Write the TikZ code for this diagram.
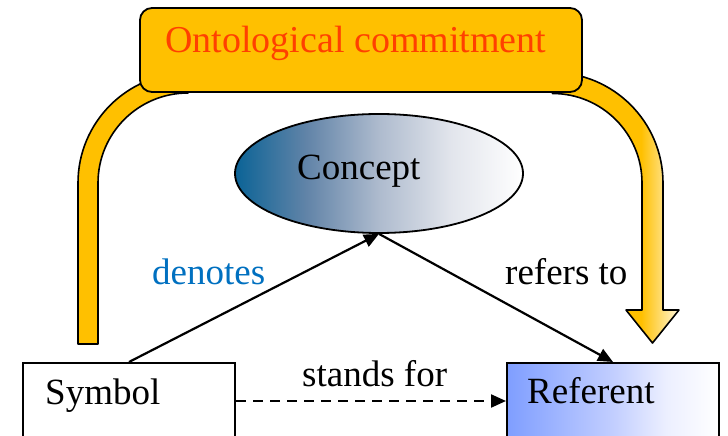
\documentclass[tikz,border=0pt]{standalone}
\usepackage{fontspec}
\setmainfont{Liberation Serif}
\usetikzlibrary{arrows.meta,shapes.geometric}
\definecolor{amber}{HTML}{FFC000}
\definecolor{amberlight}{HTML}{FFF6D8}
\definecolor{commitred}{HTML}{FF4000}
\definecolor{denoteblue}{HTML}{0070C0}
\definecolor{conceptblue}{HTML}{0B6396}
\definecolor{conceptmid}{HTML}{6284A8}
\definecolor{conceptgrey}{HTML}{AEBBCE}
\definecolor{conceptpale}{HTML}{E2E5EC}
\definecolor{refblue}{HTML}{7F9EFF}
\definecolor{refmid}{HTML}{C2CEFF}
\definecolor{refpale}{HTML}{ECEFFF}
% amber band that fades to pale yellow towards its right edge
\pgfdeclarehorizontalshading{bandfade}{100bp}{color(0bp)=(amber); color(60bp)=(amber); color(75bp)=(amberlight); color(100bp)=(amberlight)}
% deep blue through greyish blue to white
\pgfdeclarehorizontalshading{conceptfade}{100bp}{color(0bp)=(conceptblue); color(25bp)=(conceptblue); color(37.5bp)=(conceptmid); color(50bp)=(conceptgrey); color(62.5bp)=(conceptpale); color(75bp)=(white); color(100bp)=(white)}
% periwinkle to white
\pgfdeclarehorizontalshading{referentfade}{100bp}{color(0bp)=(refblue); color(25bp)=(refblue); color(50bp)=(refmid); color(62.5bp)=(refpale); color(75bp)=(white); color(100bp)=(white)}

\tikzset{
  lbl/.style={font=\fontsize{37}{44}\selectfont, inner sep=0pt, anchor=base west},
  band/.style={draw=black, line width=1.6pt, line join=round},
  box/.style={draw=black, line width=2pt, rectangle, minimum width=212pt, minimum height=76pt, inner sep=0pt},
  link/.style={draw=black, line width=2.2pt, -{Triangle[length=15pt,width=13pt]}},
}

\begin{document}
\begin{tikzpicture}[x=1pt,y=1pt]
\useasboundingbox (0,0) rectangle (728,436);

% left band: rises from the symbol side into the commitment box
\path[band, fill=amber] (78,92) -- (78,253)
  arc[start angle=180, end angle=90, radius=110] -- (188,343)
  arc[start angle=90, end angle=180, radius=90] -- (98,92) -- cycle;

% right band: leaves the commitment box and points down to the referent
\path[band, shade, shading=bandfade] (552.5,342.5) -- (552.5,363.5)
  arc[start angle=90, end angle=0, radius=110.5] -- (663,126) -- (679,126)
  -- (652.5,93) -- (626,126) -- (642,126) -- (642,253)
  arc[start angle=0, end angle=90, radius=89.5] -- cycle;

% commitment box
\node[draw=black, line width=1.8pt, fill=amber, rounded corners=12pt,
      minimum width=442pt, minimum height=84pt, inner sep=0pt] (commit) at (361,386) {};
\node[lbl, text=commitred, font=\fontsize{38}{46}\selectfont] (committext) at (165,383) {Ontological commitment};

% the three corners of the triangle
\node[ellipse, draw=black, line width=1.8pt, minimum width=288pt, minimum height=119pt,
      inner sep=0pt, shade, shading=conceptfade] (concept) at (379,262.5) {};
\node[box, fill=white] (symbol) at (129,35) {};
\node[box, shade, shading=referentfade] (referent) at (613,35) {};

\node[lbl] (concepttext) at (297,256) {Concept};
\node[lbl] (symboltext) at (45,31) {Symbol};
\node[lbl] (referenttext) at (527,32) {Referent};

% relations
\draw[link] (symbol.north) -- (concept.south);
\draw[link] (concept.south) -- (referent.north);
\draw[link, dash pattern=on 10pt off 7pt] (symbol.east) -- (referent.west);

\node[lbl, text=denoteblue] (denotes) at (152,151) {denotes};
\node[lbl] (refersto) at (505,151) {refers to};
\node[lbl] (standsfor) at (302,49) {stands for};
\end{tikzpicture}
\end{document}
